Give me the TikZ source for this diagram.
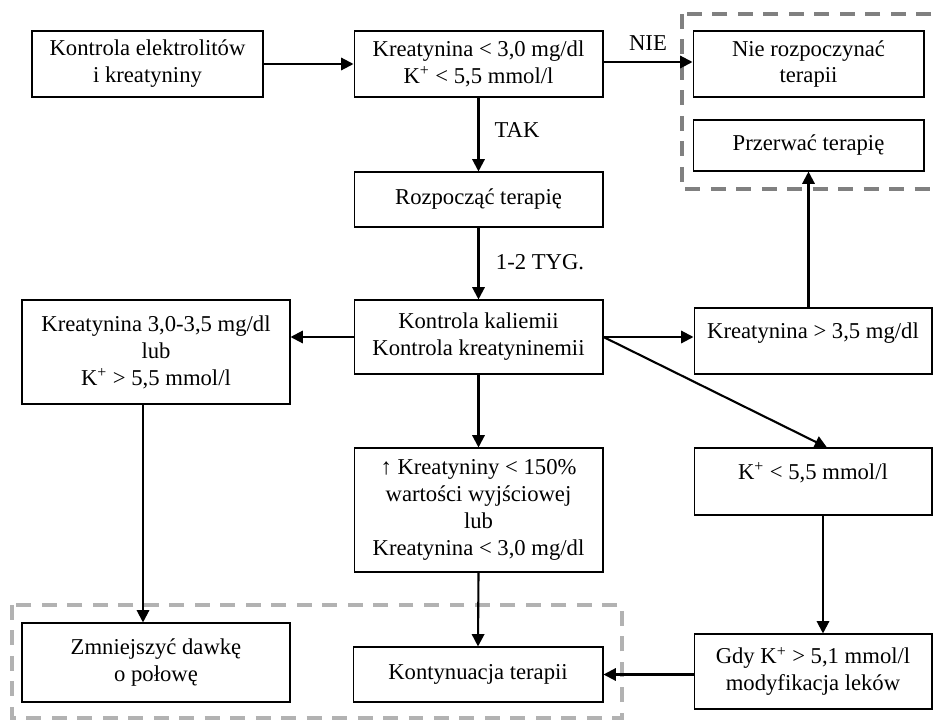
\documentclass[tikz,border=0pt]{standalone}
\usepackage{fontspec}
\setmainfont{Liberation Serif}
\usetikzlibrary{arrows.meta}
\tikzset{
  blok/.style={draw, line width=0.6pt, align=center, inner sep=2pt,
    font=\fontsize{12.9}{15.3}\selectfont},
  gora/.style={text depth=12pt},
  etyk/.style={font=\fontsize{12.9}{15.3}\selectfont},
  strz/.style={line width=1.2pt, -{Triangle[length=7pt,width=7pt]}},
  ramka/.style={line width=2.3pt, dash pattern=on 8.5pt off 6pt}
}

\begin{document}
\begin{tikzpicture}[x=0.02cm, y=-0.02cm]
  \useasboundingbox (0,0) rectangle (934,720);
  \clip (0,0) rectangle (934,720);

  % ramki przerywane
  \draw[ramka, black!50] (682,14) rectangle (950,189);
  \draw[ramka, black!30] (12,605) rectangle (622,718);

  \node[blok, minimum width=4.62cm, minimum height=1.32cm] (A) at (147.5,64) {Kontrola elektrolitów\\i kreatyniny};
  \node[blok, minimum width=4.98cm, minimum height=1.32cm] (B) at (478.5,64) {Kreatynina < 3,0 mg/dl\\K\textsuperscript{+} < 5,5 mmol/l};
  \node[blok, minimum width=4.62cm, minimum height=1.32cm] (C) at (808.5,64) {Nie rozpoczynać\\terapii};
  \node[blok, minimum width=4.62cm, minimum height=1.02cm] (D) at (808.5,145.5) {Przerwać terapię};
  \node[blok, minimum width=4.98cm, minimum height=1.10cm] (E) at (478.5,199.5) {Rozpocząć terapię};
  \node[blok, minimum width=4.98cm, minimum height=1.48cm] (F) at (478.5,337) {Kontrola kaliemii\\Kontrola kreatyninemii};
  \node[blok, minimum width=5.36cm, minimum height=2.08cm] (G) at (156,352) {Kreatynina 3,0-3,5 mg/dl\\lub\\K\textsuperscript{+} > 5,5 mmol/l};
  \node[blok, gora, minimum width=4.76cm, minimum height=1.32cm] (H) at (813,341) {Kreatynina > 3,5 mg/dl};
  \node[blok, minimum width=4.98cm, minimum height=2.48cm] (I) at (478.5,510) {↑ Kreatyniny < 150\%\\wartości wyjściowej\\lub\\Kreatynina < 3,0 mg/dl};
  \node[blok, gora, minimum width=4.76cm, minimum height=1.34cm] (J) at (813,481.5) {K\textsuperscript{+} < 5,5 mmol/l};
  \node[blok, minimum width=5.36cm, minimum height=1.58cm] (K) at (156,662.5) {Zmniejszyć dawkę\\o połowę};
  \node[blok, minimum width=5.00cm, minimum height=1.10cm] (L) at (478,674.5) {Kontynuacja terapii};
  \node[blok, minimum width=4.76cm, minimum height=1.50cm] (M) at (813,671.5) {Gdy K\textsuperscript{+} > 5,1 mmol/l\\modyfikacja leków};

  \node[etyk] (nie) at (648,43) {NIE};
  \node[etyk] (tak) at (517,130) {TAK};
  \node[etyk] (tyg) at (540,262) {1-2 TYG.};

  \draw[strz] (A.east) -- (B.west);
  \draw[strz] ([yshift=0.04cm]B.east) -- ([yshift=0.04cm]C.west);
  \draw[strz] (B.south) -- (E.north);
  \draw[strz] (E.south) -- (F.north);
  \draw[strz] (F.west) -- (F.west -| G.east);
  \draw[strz] (F.east) -- (F.east -| H.west);
  \draw[strz] (F.east) -- ([xshift=0.28cm]J.north);
  \draw[strz] (F.south) -- (I.north);
  \draw[strz] (H.north -| D.south) -- (D.south);
  \draw[strz] ([xshift=0.2cm]J.south) -- ([xshift=0.2cm]J.south |- M.north);
  \draw[strz] ([xshift=-0.26cm]G.south) -- ([xshift=-0.26cm]K.north);
  \draw[strz] (I.south) -- (L.north);
  \draw[strz] ([yshift=-0.06cm]M.west) -- ([yshift=-0.06cm]M.west -| L.east);
\end{tikzpicture}
\end{document}
